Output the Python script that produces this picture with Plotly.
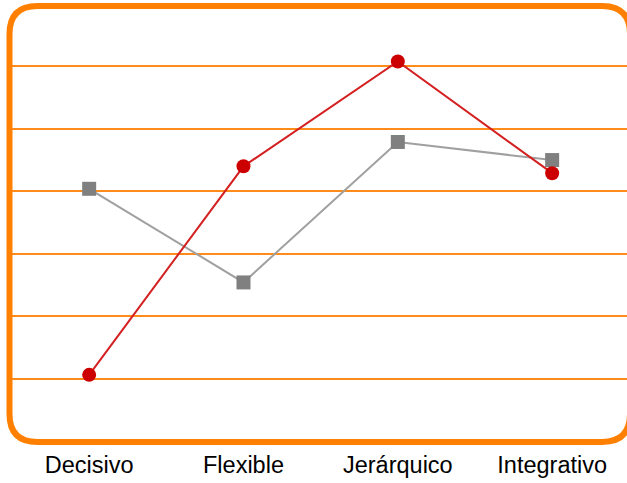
import plotly.graph_objects as go

# Categories and series values
categories = ["Decisivo", "Flexible", "Jerárquico", "Integrativo"]
serie_gris = [4.04, 2.54, 4.79, 4.50]
serie_roja = [1.06, 4.40, 6.08, 4.29]

W, H = 627, 483
ML, MR, MT, MB = 12, 0, 4, 42
PW, PH = W - ML - MR, H - MT - MB

ORANGE = "#FF8000"


def px_to_paper(x, y):
    return (x - ML) / PW, (H - MB - y) / PH


def rounded_rect(x0, y0, x1, y1, r):
    def p(x, y):
        a, b = px_to_paper(x, y)
        return f"{a:.5f},{b:.5f}"

    return (
        f"M {p(x0 + r, y0)} L {p(x1 - r, y0)} Q {p(x1, y0)} {p(x1, y0 + r)} "
        f"L {p(x1, y1 - r)} Q {p(x1, y1)} {p(x1 - r, y1)} "
        f"L {p(x0 + r, y1)} Q {p(x0, y1)} {p(x0, y1 - r)} "
        f"L {p(x0, y0 + r)} Q {p(x0, y0)} {p(x0 + r, y0)} Z"
    )


fig = go.Figure()

fig.add_trace(go.Scatter(
    x=categories, y=serie_gris, mode="lines+markers",
    line=dict(color="#A0A0A0", width=2),
    marker=dict(symbol="square", size=14, color="#808080"),
    showlegend=False,
))
fig.add_trace(go.Scatter(
    x=categories, y=serie_roja, mode="lines+markers",
    line=dict(color="#D42020", width=2),
    marker=dict(symbol="circle", size=14, color="#CC0000"),
    showlegend=False,
))

# Rounded orange frame around the plotting area
fig.add_shape(
    type="path", xref="paper", yref="paper",
    path=rounded_rect(9.5, 6, 630, 442, 28),
    line=dict(color=ORANGE, width=6),
    layer="above",
)

fig.update_layout(
    width=W, height=H,
    margin=dict(l=ML, r=MR, t=MT, b=MB),
    paper_bgcolor="white", plot_bgcolor="white",
    font=dict(family="Liberation Sans, Arial, sans-serif", color="#000000"),
    xaxis=dict(
        type="category", range=[-0.5, 3.485],
        showgrid=False, zeroline=False, showline=False,
        ticks="", tickfont=dict(size=23.5), ticklabelstandoff=7,
    ),
    yaxis=dict(
        range=[0, 7], dtick=1, showgrid=True,
        gridcolor="#FF8C1A", gridwidth=2,
        zeroline=False, showline=False, showticklabels=False, ticks="",
    ),
)

fig.write_html("out.html")
